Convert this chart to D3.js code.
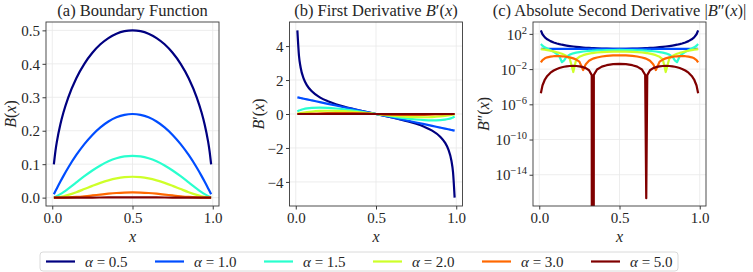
<!DOCTYPE html>
<html>
<head>
<meta charset="utf-8">
<script src="https://cdn.jsdelivr.net/npm/d3@7"></script>
<style>
  body { margin: 0; background: #fff; }
  svg text { font-family: "Liberation Serif", "DejaVu Serif", serif; fill: #262626; }
</style>
</head>
<body>
<div id="chart"></div>
<script>
// alpha values and their colours (jet colormap)
const alphas = [0.5, 1.0, 1.5, 2.0, 3.0, 5.0];
const colours = ["#000080", "#004dff", "#29ffce", "#ceff29", "#ff6800", "#800000"];

// x samples for panels (a) and (b)
const xAB = [0.01, 0.02, 0.03, 0.05, 0.07, 0.1, 0.15, 0.2, 0.25, 0.3, 0.35, 0.4, 0.45, 0.5,
  0.55, 0.6, 0.65, 0.7, 0.75, 0.8, 0.85, 0.9, 0.93, 0.95, 0.97, 0.98, 0.99];

// (a) B(x)
const b05 = [0.0995, 0.14, 0.1706, 0.2179, 0.2551, 0.3, 0.3571, 0.4, 0.433, 0.4583, 0.477, 0.4899, 0.4975, 0.5,
  0.4975, 0.4899, 0.477, 0.4583, 0.433, 0.4, 0.3571, 0.3, 0.2551, 0.2179, 0.1706, 0.14, 0.0995];
const b10 = [0.0099, 0.0196, 0.0291, 0.0475, 0.0651, 0.09, 0.1275, 0.16, 0.1875, 0.21, 0.2275, 0.24, 0.2475, 0.25,
  0.2475, 0.24, 0.2275, 0.21, 0.1875, 0.16, 0.1275, 0.09, 0.0651, 0.0475, 0.0291, 0.0196, 0.0099];
const b15 = [0.00099, 0.00274, 0.00496, 0.01035, 0.01661, 0.027, 0.04553, 0.064, 0.08119, 0.09624, 0.10852, 0.11758, 0.12313, 0.125,
  0.12313, 0.11758, 0.10852, 0.09624, 0.08119, 0.064, 0.04553, 0.027, 0.01661, 0.01035, 0.00496, 0.00274, 0.00099];
const b20 = [0.0001, 0.00038, 0.00085, 0.00226, 0.00424, 0.0081, 0.01626, 0.0256, 0.03516, 0.0441, 0.05176, 0.0576, 0.06126, 0.0625,
  0.06126, 0.0576, 0.05176, 0.0441, 0.03516, 0.0256, 0.01626, 0.0081, 0.00424, 0.00226, 0.00085, 0.00038, 0.0001];
const b30 = [0.000001, 0.0000075, 0.0000246, 0.000107, 0.000276, 0.000729, 0.002073, 0.004096, 0.006592, 0.009261, 0.011775, 0.013824, 0.015161, 0.015625,
  0.015161, 0.013824, 0.011775, 0.009261, 0.006592, 0.004096, 0.002073, 0.000729, 0.000276, 0.000107, 0.0000246, 0.0000075, 0.000001];
const b50 = [0, 0.000000003, 0.00000002, 0.00000024, 0.0000012, 0.0000059, 0.0000337, 0.000105, 0.000232, 0.000408, 0.000609, 0.000796, 0.000929, 0.000977,
  0.000929, 0.000796, 0.000609, 0.000408, 0.000232, 0.000105, 0.0000337, 0.0000059, 0.0000012, 0.00000024, 0.00000002, 0.000000003, 0];

// (b) B'(x)
const d05 = [4.925, 3.429, 2.755, 2.065, 1.686, 1.333, 0.98, 0.75, 0.577, 0.436, 0.315, 0.204, 0.101, 0,
  -0.101, -0.204, -0.315, -0.436, -0.577, -0.75, -0.98, -1.333, -1.686, -2.065, -2.755, -3.429, -4.925];
const d10 = [0.98, 0.96, 0.94, 0.9, 0.86, 0.8, 0.7, 0.6, 0.5, 0.4, 0.3, 0.2, 0.1, 0,
  -0.1, -0.2, -0.3, -0.4, -0.5, -0.6, -0.7, -0.8, -0.86, -0.9, -0.94, -0.96, -0.98];
const d15 = [0.146, 0.202, 0.241, 0.294, 0.329, 0.36, 0.375, 0.36, 0.325, 0.275, 0.215, 0.147, 0.075, 0,
  -0.075, -0.147, -0.215, -0.275, -0.325, -0.36, -0.375, -0.36, -0.329, -0.294, -0.241, -0.202, -0.146];
const d20 = [0.0194, 0.0376, 0.0547, 0.0855, 0.112, 0.144, 0.1785, 0.192, 0.1875, 0.168, 0.1365, 0.096, 0.0495, 0,
  -0.0495, -0.096, -0.1365, -0.168, -0.1875, -0.192, -0.1785, -0.144, -0.112, -0.0855, -0.0547, -0.0376, -0.0194];
const d30 = [0.0003, 0.0011, 0.0024, 0.0061, 0.0109, 0.0194, 0.0341, 0.0461, 0.0527, 0.0529, 0.0466, 0.0346, 0.0184, 0,
  -0.0184, -0.0346, -0.0466, -0.0529, -0.0527, -0.0461, -0.0341, -0.0194, -0.0109, -0.0061, -0.0024, -0.0011, -0.0003];
const d50 = [0, 0.0000007, 0.0000034, 0.0000229, 0.0000772, 0.000262, 0.000925, 0.001966, 0.00309, 0.00389, 0.00402, 0.00332, 0.00188, 0,
  -0.00188, -0.00332, -0.00402, -0.00389, -0.00309, -0.001966, -0.000925, -0.000262, -0.0000772, -0.0000229, -0.0000034, -0.0000007, 0];

// x samples for panel (c), denser around the zero crossings
const xC = [0.01, 0.02, 0.035, 0.05, 0.07, 0.09, 0.11, 0.125, 0.1415, 0.155, 0.17, 0.19, 0.212, 0.23, 0.25, 0.2735, 0.29, 0.31, 0.327, 0.3333, 0.34, 0.36, 0.39, 0.42, 0.46, 0.5,
  0.54, 0.58, 0.61, 0.64, 0.66, 0.6667, 0.673, 0.69, 0.71, 0.7265, 0.75, 0.77, 0.788, 0.81, 0.83, 0.845, 0.8585, 0.875, 0.89, 0.91, 0.93, 0.95, 0.965, 0.98, 0.99];

// (c) |B''(x)|
const s05 = [253.8, 91.1, 40.28, 24.15, 15.05, 10.67, 8.161, 6.911, 5.905, 5.274, 4.717, 4.141, 3.661, 3.354, 3.079, 2.823, 2.676, 2.527, 2.422, 2.386, 2.352, 2.261, 2.154, 2.079, 2.019, 2.0,
  2.019, 2.079, 2.154, 2.261, 2.352, 2.386, 2.422, 2.527, 2.676, 2.823, 3.079, 3.354, 3.661, 4.141, 4.717, 5.274, 5.905, 6.911, 8.161, 10.67, 15.05, 24.15, 40.28, 91.1, 253.8];
const s10 = [2, 2, 2, 2, 2, 2, 2, 2, 2, 2, 2, 2, 2, 2, 2, 2, 2, 2, 2, 2, 2, 2, 2, 2, 2, 2,
  2, 2, 2, 2, 2, 2, 2, 2, 2, 2, 2, 2, 2, 2, 2, 2, 2, 2, 2, 2, 2, 2, 2, 2, 2];
const s15 = [6.941, 4.517, 2.978, 2.134, 1.409, 0.9036, 0.5197, 0.2835, 0.0607, 0.0991, 0.2572, 0.442, 0.6174, 0.7428, 0.866, 0.992, 1.0698, 1.1533, 1.216, 1.2374, 1.259, 1.3175, 1.3888, 1.4418, 1.4856, 1.5,
  1.4856, 1.4418, 1.3888, 1.3175, 1.259, 1.2374, 1.216, 1.1533, 1.0698, 0.992, 0.866, 0.7428, 0.6174, 0.442, 0.2572, 0.0991, 0.0607, 0.2835, 0.5197, 0.9036, 1.409, 2.134, 2.978, 4.517, 6.941];
const s20 = [1.8812, 1.7648, 1.5947, 1.43, 1.2188, 1.0172, 0.8252, 0.6875, 0.5423, 0.4283, 0.3068, 0.1532, 0.00467, 0.1252, 0.25, 0.3844, 0.4708, 0.5668, 0.6409, 0.6667, 0.6928, 0.7648, 0.8548, 0.9232, 0.9808, 1.0,
  0.9808, 0.9232, 0.8548, 0.7648, 0.6928, 0.6667, 0.6409, 0.5668, 0.4708, 0.3844, 0.25, 0.1252, 0.00467, 0.1532, 0.3068, 0.4283, 0.5423, 0.6875, 0.8252, 1.0172, 1.2188, 1.43, 1.5947, 1.7648, 1.8812];
const s30 = [0.05646, 0.10608, 0.16843, 0.21731, 0.26346, 0.29017, 0.29987, 0.29736, 0.28616, 0.27122, 0.24932, 0.21284, 0.1651, 0.12167, 0.07031, 0.00776, 0.03644, 0.0892, 0.13251, 0.14815, 0.16426, 0.21012, 0.27049, 0.31863, 0.36068, 0.375,
  0.36068, 0.31863, 0.27049, 0.21012, 0.16426, 0.14815, 0.13251, 0.0892, 0.03644, 0.00776, 0.07031, 0.12167, 0.1651, 0.21284, 0.24932, 0.27122, 0.28616, 0.29736, 0.29987, 0.29017, 0.26346, 0.21731, 0.16843, 0.10608, 0.05646];
const s50 = [1.854e-5, 1.373e-4, 6.535e-4, 1.685e-3, 3.902e-3, 6.938e-3, 0.010499, 0.013289, 0.016254, 0.018451, 0.02051, 0.022414, 0.023148, 0.022557, 0.020599, 0.016609, 0.012823, 0.00733, 0.002063, 0, 0.002215, 0.009002, 0.018998, 0.027813, 0.03611, 0.039063,
  0.03611, 0.027813, 0.018998, 0.009002, 0.002215, 2.2e-17, 0.002063, 0.00733, 0.012823, 0.016609, 0.020599, 0.022557, 0.023148, 0.022414, 0.02051, 0.018451, 0.016254, 0.013289, 0.010499, 6.938e-3, 3.902e-3, 1.685e-3, 6.535e-4, 1.373e-4, 1.854e-5];

const xTicks = [0, 0.5, 1];
const bTicks = [0, 0.1, 0.2, 0.3, 0.4, 0.5];
const dTicks = [-4, -2, 0, 2, 4];
const sTicks = [1e2, 1e-2, 1e-6, 1e-10, 1e-14];

const width = 753;
const height = 272;
const panelLefts = [46, 289.5, 533];
const panelTop = 22;
const panelW = 173;
const panelH = 184;

const svg = d3
  .select("#chart")
  .append("svg")
  .attr("width", width)
  .attr("height", height);

const x = d3.scaleLinear().domain([-0.039, 1.039]).range([0, panelW]);

const minus = (s) => s.replace("-", "\u2212");

function drawPanel(idx, opts) {
  const g = svg
    .append("g")
    .attr("transform", `translate(${panelLefts[idx]},${panelTop})`);
  const y = opts.y;

  g.append("clipPath")
    .attr("id", "clip" + idx)
    .append("rect")
    .attr("width", panelW)
    .attr("height", panelH);

  // grid
  g.selectAll(".gx")
    .data(xTicks)
    .enter()
    .append("line")
    .attr("x1", (d) => x(d))
    .attr("x2", (d) => x(d))
    .attr("y1", 0)
    .attr("y2", panelH)
    .attr("stroke", "#e8e8e8")
    .attr("stroke-width", 0.8);
  g.selectAll(".gy")
    .data(opts.yTicks)
    .enter()
    .append("line")
    .attr("x1", 0)
    .attr("x2", panelW)
    .attr("y1", (d) => y(d))
    .attr("y2", (d) => y(d))
    .attr("stroke", "#e8e8e8")
    .attr("stroke-width", 0.8);

  // curves
  const lines = g.append("g").attr("clip-path", `url(#clip${idx})`);
  opts.series.forEach((vals, i) => {
    const pts = opts.xs.map((xv, j) => [xv, vals[j]]);
    const line = d3
      .line()
      .x((d) => x(d[0]))
      .y((d) => y(opts.log ? Math.max(d[1], 1e-300) : d[1]))
      .curve(opts.curve);
    lines
      .append("path")
      .attr("d", line(pts))
      .attr("fill", "none")
      .attr("stroke", colours[i])
      .attr("stroke-width", 2.2)
      .attr("stroke-linejoin", "round");
  });

  // frame
  g.append("rect")
    .attr("width", panelW)
    .attr("height", panelH)
    .attr("fill", "none")
    .attr("stroke", "#3a3a3a")
    .attr("stroke-width", 0.9);

  // x axis
  const xa = g
    .append("g")
    .attr("transform", `translate(0,${panelH})`)
    .call(d3.axisBottom(x).tickValues(xTicks).tickFormat(d3.format(".1f")).tickSize(3.5).tickPadding(3));
  xa.select(".domain").remove();
  xa.selectAll("line").attr("stroke", "#3a3a3a");
  xa.selectAll("text").attr("font-size", 15).attr("font-family", null).attr("fill", null);

  // y axis
  const ya = g
    .append("g")
    .call(d3.axisLeft(y).tickValues(opts.yTicks).tickFormat("").tickSize(3.5));
  ya.select(".domain").remove();
  ya.selectAll("line").attr("stroke", "#3a3a3a");
  ya.selectAll(".tick")
    .append("text")
    .attr("x", -6)
    .attr("dy", "0.35em")
    .attr("text-anchor", "end")
    .attr("font-size", 15)
    .each(function (d) {
      const t = d3.select(this);
      if (opts.log) {
        t.append("tspan").text("10");
        t.append("tspan")
          .attr("dy", -6)
          .attr("font-size", 10.5)
          .text(minus(String(Math.round(Math.log10(d)))));
      } else {
        t.text(minus(opts.fmt(d)));
      }
    });

  // title
  const title = g
    .append("text")
    .attr("x", panelW / 2)
    .attr("y", -6)
    .attr("text-anchor", "middle")
    .attr("font-size", 16.5);
  opts.title.forEach((p) => {
    title.append("tspan").attr("font-style", p[1] ? "italic" : null).text(p[0]);
  });

  // x label
  g.append("text")
    .attr("x", panelW / 2)
    .attr("y", panelH + 36)
    .attr("text-anchor", "middle")
    .attr("font-size", 16)
    .attr("font-style", "italic")
    .text("x");

  // y label
  const yl = g
    .append("text")
    .attr("transform", `translate(${opts.ylabelX},${panelH / 2}) rotate(-90)`)
    .attr("text-anchor", "middle")
    .attr("font-size", 16);
  opts.ylabel.forEach((p) => {
    yl.append("tspan").attr("font-style", p[1] ? "italic" : null).text(p[0]);
  });
}

drawPanel(0, {
  xs: xAB,
  series: [b05, b10, b15, b20, b30, b50],
  y: d3.scaleLinear().domain([-0.025, 0.525]).range([panelH, 0]),
  yTicks: bTicks,
  fmt: d3.format(".1f"),
  curve: d3.curveMonotoneX,
  title: [["(a) Boundary Function", false]],
  ylabel: [["B", true], ["(", false], ["x", true], [")", false]],
  ylabelX: -30
});

drawPanel(1, {
  xs: xAB,
  series: [d05, d10, d15, d20, d30, d50],
  y: d3.scaleLinear().domain([-5.4175, 5.4175]).range([panelH, 0]),
  yTicks: dTicks,
  fmt: d3.format("d"),
  curve: d3.curveMonotoneX,
  title: [["(b) First Derivative ", false], ["B", true], ["\u2032(", false], ["x", true], [")", false]],
  ylabel: [["B", true], ["\u2032(", false], ["x", true], [")", false]],
  ylabelX: -26
});

drawPanel(2, {
  xs: xC,
  series: [s05, s10, s15, s20, s30, s50],
  y: d3.scaleLog().domain([Math.pow(10, -17.55), Math.pow(10, 3.35)]).range([panelH, 0]),
  yTicks: sTicks,
  log: true,
  curve: d3.curveLinear,
  title: [["(c) Absolute Second Derivative |", false], ["B", true], ["\u2033(", false], ["x", true], [")|", false]],
  ylabel: [["B", true], ["\u2033(", false], ["x", true], [")", false]],
  ylabelX: -44
});

// legend
const legend = svg.append("g").attr("transform", "translate(40,252)");
legend
  .append("rect")
  .attr("width", 638)
  .attr("height", 19)
  .attr("rx", 3)
  .attr("fill", "#fff")
  .attr("stroke", "#d0d0d0")
  .attr("stroke-width", 0.8);
alphas.forEach((a, i) => {
  const item = legend.append("g").attr("transform", `translate(${6 + i * 109},0)`);
  item
    .append("line")
    .attr("x1", 0)
    .attr("x2", 29)
    .attr("y1", 9.5)
    .attr("y2", 9.5)
    .attr("stroke", colours[i])
    .attr("stroke-width", 2.2);
  const t = item
    .append("text")
    .attr("x", 39)
    .attr("y", 14.5)
    .attr("font-size", 15);
  t.append("tspan").attr("font-style", "italic").text("\u03b1");
  t.append("tspan").text(" = " + d3.format(".1f")(a));
});
</script>
</body>
</html>
